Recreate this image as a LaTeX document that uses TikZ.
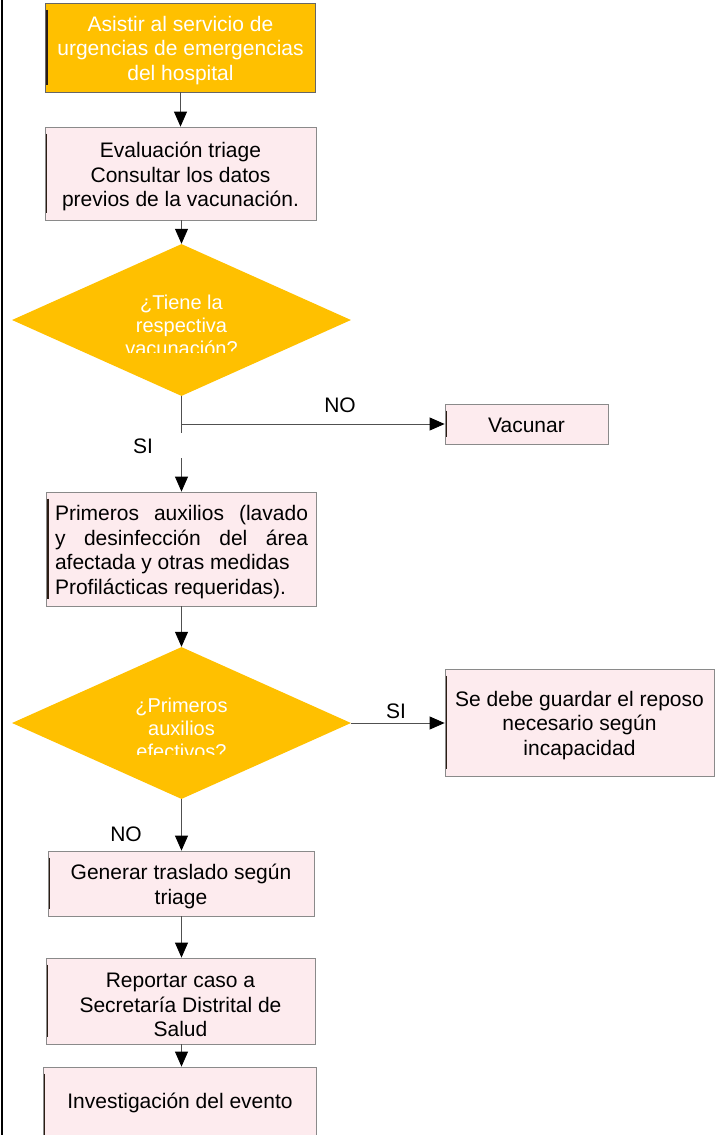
\documentclass[tikz,border=0pt]{standalone}
\usepackage{fontspec}
\setmainfont{Liberation Sans}
\usetikzlibrary{arrows.meta,shapes.geometric,calc}
\definecolor{orng}{HTML}{FFC000}
\definecolor{pinkf}{HTML}{FDEBEE}
\definecolor{bord}{HTML}{8A8A8A}
\definecolor{stripec}{HTML}{2B1D14}
\definecolor{connc}{HTML}{505050}
\begin{document}
\begin{tikzpicture}[x=1pt,y=-1pt,
  pbox/.style={draw=bord,line width=0.8pt,fill=pinkf,inner sep=0pt},
  obox/.style={pbox,fill=orng,draw=black!60},
  btext/.style={inner sep=0pt,align=center,font=\fontsize{21}{24.5}\selectfont,text=black},
  wtext/.style={btext,text=white},
  dia/.style={diamond,fill=orng,draw=none,inner sep=0pt,aspect=2.23,
    minimum width=339pt,minimum height=152pt},
  dtext/.style={align=center,font=\fontsize{20}{23}\selectfont,text=white,inner sep=0pt},
  lbl/.style={font=\fontsize{21}{24.5}\selectfont,inner sep=0pt},
  conn/.style={draw=connc,line width=0.8pt},
  arr/.style={-{Triangle[width=13pt,length=15pt,color=black]}},
  stripe/.style={draw=stripec,line width=1.8pt}]
\useasboundingbox (0,0) rectangle (716,1135);
% left frame line
\draw[line width=1.5pt] (2,0) -- (2,1135);

\node[obox,minimum width=270pt,minimum height=89pt] (b1) at (180.5,47.5) {};
\node[wtext] (b1t) at (180.5,50.5) {Asistir al servicio de\\urgencias de emergencias\\del hospital};
\node[pbox,minimum width=271pt,minimum height=93pt] (b2) at (180.5,173.5) {};
\node[btext] (b2t) at (180.5,176.5) {Evaluación triage\\Consultar los datos\\previos de la vacunación.};
\node[dia] (d1) at (181.5,320) {};
\begin{scope}
  \clip (0,280) rectangle (716,352);
  \node[dtext] (t1) at (181.5,325) {¿Tiene la\\respectiva\\vacunación?};
\end{scope}
\node[pbox,minimum width=163pt,minimum height=40pt] (vac) at (526.5,424) {};
\node[btext] (vact) at (526.5,425) {Vacunar};
\node[pbox,minimum width=270pt,minimum height=114pt] (b3) at (181.5,549) {};
\node[btext,align=left] (b3t) at (181.5,552)
  {\hbox to 253pt{Primeros\hfill auxilios\hfill (lavado}\\
   \hbox to 253pt{y\hfill desinfección\hfill del\hfill área}\\
   afectada y otras medidas\\
   Profilácticas requeridas).};
\node[dia] (d2) at (181.5,723) {};
\begin{scope}
  \clip (0,680) rectangle (716,754);
  \node[dtext] (t2) at (181.5,728) {¿Primeros\\auxilios\\efectivos?};
\end{scope}
\node[pbox,minimum width=269pt,minimum height=107pt] (rep) at (579.5,722.5) {};
\node[btext] (rept) at (579.5,725.5) {Se debe guardar el reposo\\necesario según\\incapacidad};
\node[pbox,minimum width=266pt,minimum height=65pt] (b6) at (181,883.5) {};
\node[btext] (b6t) at (181,886.5) {Generar traslado según\\triage};
\node[pbox,minimum width=269pt,minimum height=86pt] (b7) at (180.5,1001) {};
\node[btext] (b7t) at (180.5,1005) {Reportar caso a\\Secretaría Distrital de\\Salud};
\node[pbox,minimum width=273pt,minimum height=76pt] (b8) at (179.5,1105) {};
\node[btext] (b8t) at (180,1103) {Investigación del evento};

% stripes at left edges of boxes
\foreach \b in {b1,b2,vac,b3,rep,b6,b7,b8}
  \draw[stripe] ($(\b.north west)+(1.8,7)$) -- ($(\b.south west)+(1.8,-7)$);

% connectors
\coordinate (j1) at (d1.south |- vac.west);
\coordinate (g0) at ($(j1)+(0,9)$);
\coordinate (g1) at ($(j1)+(0,34)$);
\draw[conn,arr] (b1.south) -- (b1.south |- b2.north);
\draw[conn,arr] (b2.south -| d1.north) -- (d1.north);
\draw[conn,arr] (d1.south) |- (vac.west);
\draw[conn] (j1) -- (g0);
\draw[conn,arr] (g1) -- (g1 |- b3.north);
\draw[conn,arr] (b3.south -| d2.north) -- (d2.north);
\draw[conn,arr] (d2.east) -- (d2.east -| rep.west);
\draw[conn,arr] (d2.south) -- (d2.south |- b6.north);
\draw[conn,arr] (b6.south -| d2.south) -- (d2.south |- b7.north);
\draw[conn,arr] (b7.south -| d2.south) -- (d2.south |- b8.north);

% labels
\node[lbl] (lno1) at (340,405) {NO};
\node[lbl] (lsi1) at (143,446) {SI};
\node[lbl] (lsi2) at (396,711) {SI};
\node[lbl] (lno2) at (126,834) {NO};
\end{tikzpicture}
\end{document}
